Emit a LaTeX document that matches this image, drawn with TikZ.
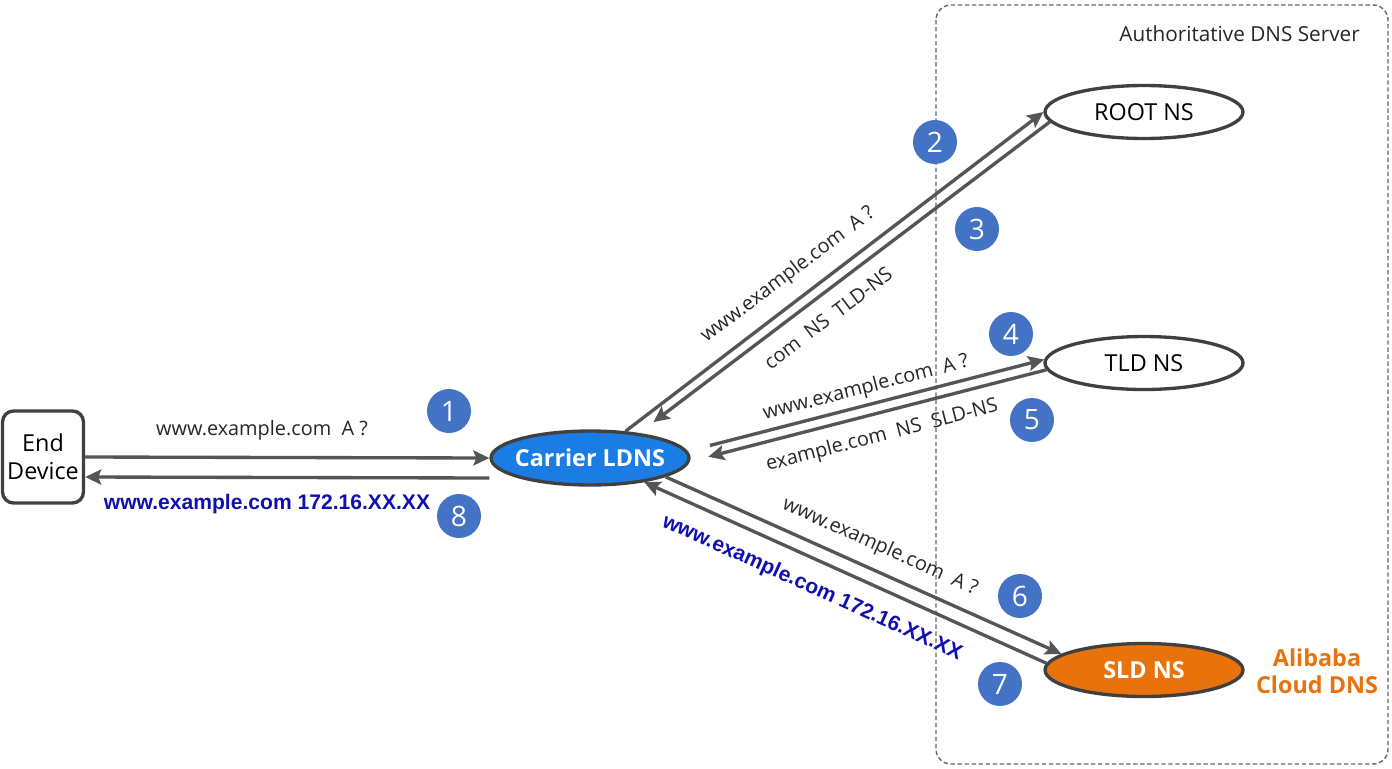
\documentclass[tikz,border=0pt]{standalone}
\usepackage{fontspec}
\setmainfont{Open Sans}
\newfontfamily\arialfont{Liberation Sans}
\usetikzlibrary{shapes.geometric, arrows.meta}

\definecolor{ldnsblue}{RGB}{27,125,228}
\definecolor{sldorange}{RGB}{232,114,12}
\definecolor{stepblue}{RGB}{68,114,196}
\definecolor{answerblue}{RGB}{16,16,176}
\definecolor{linegray}{RGB}{85,85,85}
\definecolor{edgegray}{RGB}{64,64,64}

\begin{document}
\begin{tikzpicture}[x=0.02cm, y=-0.02cm,
  server/.style={ellipse, draw=edgegray, line width=1.9pt, minimum width=3.96cm,
    minimum height=1.06cm, inner sep=0pt, font=\fontsize{13.3}{16}\selectfont},
  msg/.style={-{Stealth[length=0.32cm, width=0.3cm, inset=0.06cm]},
    draw=linegray, line width=1.9pt},
  query/.style={font=\fontsize{11.3}{13.5}\selectfont, text=black!85},
  answer/.style={font=\arialfont\bfseries\fontsize{12}{14}\selectfont, text=answerblue},
  stepnum/.style={circle, fill=stepblue, text=white, minimum size=0.88cm,
    inner sep=0pt, font=\fontsize{16}{16}\selectfont}]
  \useasboundingbox (0,0) rectangle (1392,768);

  % authoritative side
  \draw[edgegray!80, line width=0.8pt, dash pattern=on 2.5pt off 1.5pt,
    rounded corners=0.3cm] (936,5) rectangle (1388,764);
  \node[anchor=east, text=black!85, font=\fontsize{11.8}{14}\selectfont] (auth)
    at (1366,34) {Authoritative DNS Server};
  \node[server] (root) at (1144,112) {ROOT NS};
  \node[server] (tld) at (1144,363) {TLD NS};
  \node[server, fill=sldorange, text=white,
    font=\bfseries\fontsize{13.3}{16}\selectfont] (sld) at (1144,670) {SLD NS};
  \node[align=center, text=sldorange,
    font=\bfseries\fontsize{13.3}{15.5}\selectfont] (ali) at (1317,671) {Alibaba\\Cloud DNS};

  % resolver side
  \node[draw=edgegray, line width=1.9pt, rounded corners=0.22cm, minimum width=1.62cm,
    minimum height=1.84cm, align=center, inner sep=0pt,
    font=\fontsize{13.3}{16}\selectfont] (dev) at (43,457) {End\\Device};
  \node[server, inner xsep=-3pt, minimum height=1.08cm, fill=ldnsblue, text=white,
    font=\bfseries\fontsize{13.3}{16}\selectfont] (ldns) at (590,458) {Carrier LDNS};

  % queries and answers
  \draw[msg] (dev.east) -- (ldns.west);
  \draw[msg] ([yshift=-0.4cm]ldns.west) -- ([yshift=-0.4cm]dev.east);
  \draw[msg] (ldns.37) -- (root.180);
  \draw[msg, shorten >=0.36cm] (root.186) -- (ldns.27);
  \draw[msg, shorten <=0.46cm] (ldns.4) -- (tld.178);
  \draw[msg, shorten >=0.38cm] (tld.184) -- (ldns.-2);
  \draw[msg] (ldns.-14) -- (sld.169);
  \draw[msg] (sld.176) -- (ldns.-24);

  \node[query] (q1) at (262,430) {www.example.com\ \ A ?};
  \node[answer] (a8) at (267,504) {www.example.com 172.16.XX.XX};
  \node[query, rotate=37] (q2) at (788,275) {www.example.com\ \ A ?};
  \node[query, rotate=37] (a3) at (828,318) {com\ \ NS\ \ TLD-NS};
  \node[query, rotate=14.5] (q4) at (866,388) {www.example.com\ \ A ?};
  \node[query, rotate=14.5] (a5) at (882,436) {example.com\ \ NS\ \ SLD-NS};
  \node[query, rotate=-24.2] (q6) at (880,547) {www.example.com\ \ A ?};
  \node[answer, rotate=-24.2] (a7) at (812,588) {www.example.com 172.16.XX.XX};

  % step numbers
  \node[stepnum] (s1) at (449,411) {1};
  \node[stepnum] (s2) at (935,142) {2};
  \node[stepnum] (s3) at (977,229) {3};
  \node[stepnum] (s4) at (1011,334) {4};
  \node[stepnum] (s5) at (1032,420) {5};
  \node[stepnum] (s6) at (1020,596) {6};
  \node[stepnum] (s7) at (1000,684) {7};
  \node[stepnum] (s8) at (459,516) {8};
\end{tikzpicture}
\end{document}
